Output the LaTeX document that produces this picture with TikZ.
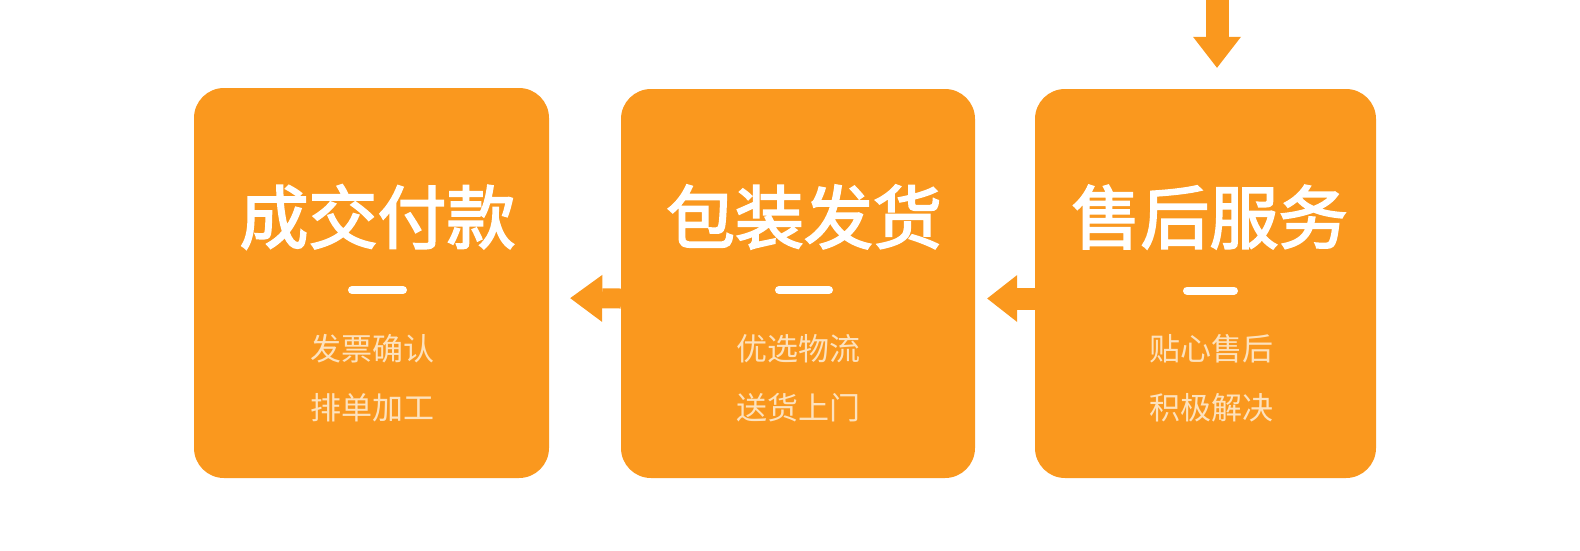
\documentclass[tikz,border=0pt]{standalone}
\usepackage{fontspec}
\setmainfont{Noto Sans CJK SC}
\newfontfamily\ttlfont{Noto Sans CJK SC}[FakeBold=2.6]
\usetikzlibrary{arrows.meta}
\definecolor{org}{RGB}{250,152,30}
\definecolor{subc}{RGB}{253,226,190}
\begin{document}
\begin{tikzpicture}[x=1pt,y=-1pt,
  card/.style={fill=org, rounded corners=30pt, inner sep=0pt},
  ttl/.style={text=white, font=\ttlfont\fontsize{69}{69}\selectfont, inner sep=0pt, text height=60.7pt, text depth=8.3pt},
  subt/.style={text=subc, font=\fontsize{31}{31}\selectfont, inner sep=0pt, text height=27.3pt, text depth=3.7pt},
  dashbar/.style={draw=white, line width=8pt, line cap=round},
  flow/.style={draw=org, line width=20pt, line cap=butt}
]
\useasboundingbox (0,0) rectangle (1580,550);
% cards
\node[card, minimum width=355pt, minimum height=390pt] (b1) at (371.5,283) {};
\node[card, minimum width=354pt, minimum height=389pt] (b2) at (798,283.5) {};
\node[card, minimum width=341pt, minimum height=389pt] (b3) at (1205.5,283.5) {};
% titles
\node[ttl] (t1) at (377.5,217) {成交付款};
\node[ttl] (t2) at (804,217) {包装发货};
\node[ttl] (t3) at (1209.5,217) {售后服务};
% dashes
\draw[dashbar] (352,290) -- (403,290);
\draw[dashbar] (779,290) -- (829,290);
\draw[dashbar] (1187,290.5) -- (1234,290.5);
% subtitles
\node[subt] (s1a) at (372,349) {发票确认};
\node[subt] (s1b) at (372,408) {排单加工};
\node[subt] (s2a) at (798,349) {优选物流};
\node[subt] (s2b) at (798,408) {送货上门};
\node[subt] (s3a) at (1211,349) {贴心售后};
\node[subt] (s3b) at (1211,408) {积极解决};
% arrows
\draw[flow, -{Triangle[width=47pt,length=32pt,line width=0pt]}, shorten >=21pt]
  ([yshift=-15pt]b2.west) -- ([yshift=-15pt]b1.east);
\draw[flow, line width=22pt, -{Triangle[width=47pt,length=30pt,line width=0pt]}, shorten >=12pt]
  ([yshift=-15pt]b3.west) -- ([yshift=-15pt]b2.east);
\coordinate (top) at (1217,0);
\draw[flow, line width=23pt, -{Triangle[width=48pt,length=31pt,line width=0pt]}, shorten >=21pt]
  (top) -- (top |- b3.north);
\end{tikzpicture}
\end{document}
